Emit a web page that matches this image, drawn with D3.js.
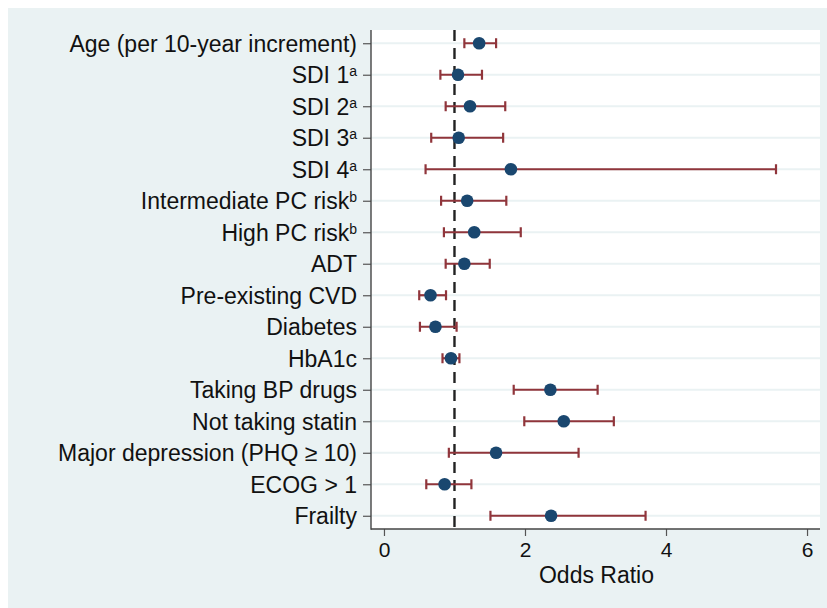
<!DOCTYPE html>
<html>
<head>
<meta charset="utf-8">
<script src="https://cdn.jsdelivr.net/npm/d3@7"></script>
<style>
  html, body { margin: 0; padding: 0; background: #fff; }
  svg { display: block; font-family: "Liberation Sans", Arial, Helvetica, sans-serif; }
</style>
</head>
<body>
<svg id="chart" width="827" height="608"></svg>
<script>
const width = 827;
const height = 608;

// rows, top to bottom
const labels = [
  "Age (per 10-year increment)",
  "SDI 1", "SDI 2", "SDI 3", "SDI 4",
  "Intermediate PC risk", "High PC risk",
  "ADT", "Pre-existing CVD", "Diabetes", "HbA1c",
  "Taking BP drugs", "Not taking statin",
  "Major depression (PHQ \u2265 10)", "ECOG > 1", "Frailty"
];
const superscripts = ["", "a", "a", "a", "a", "b", "b", "", "", "", "", "", "", "", "", ""];
const oddsRatio = [1.35, 1.05, 1.22, 1.06, 1.80, 1.18, 1.28, 1.14, 0.66, 0.73, 0.95, 2.36, 2.55, 1.59, 0.86, 2.37];
const lower =     [1.14, 0.80, 0.875, 0.67, 0.59, 0.81, 0.85, 0.875, 0.50, 0.51, 0.83, 1.84, 1.99, 0.92, 0.60, 1.51];
const upper =     [1.59, 1.39, 1.72, 1.69, 5.56, 1.735, 1.94, 1.50, 0.88, 1.03, 1.07, 3.03, 3.26, 2.76, 1.24, 3.71];
const xTicks = [0, 2, 4, 6];

const rows = labels.map((d, i) => ({
  label: d, sup: superscripts[i], pos: i + 1,
  or: oddsRatio[i], lo: lower[i], hi: upper[i]
}));

const plot = { left: 371, right: 820, top: 30, bottom: 529 };

const x = d3.scaleLinear().domain([-0.184, 6.184]).range([plot.left, plot.right]);
const y = d3.scaleLinear().domain([0.58, 16.42]).range([plot.top, plot.bottom]);

const svg = d3.select("#chart");

// outer background
svg.append("rect")
  .attr("x", 8).attr("y", 8)
  .attr("width", width - 8).attr("height", height - 8)
  .attr("fill", "#eaf2f3");

// plot region
svg.append("rect")
  .attr("x", plot.left).attr("y", plot.top)
  .attr("width", plot.right - plot.left).attr("height", plot.bottom - plot.top)
  .attr("fill", "#ffffff");

// horizontal grid lines
svg.append("g")
  .selectAll("line")
  .data(rows)
  .join("line")
  .attr("x1", plot.left).attr("x2", plot.right)
  .attr("y1", d => y(d.pos)).attr("y2", d => y(d.pos))
  .attr("stroke", "#eaf2f3")
  .attr("stroke-width", 2);

// reference line at OR = 1
svg.append("line")
  .attr("x1", x(1)).attr("x2", x(1))
  .attr("y1", plot.top).attr("y2", plot.bottom)
  .attr("stroke", "#222")
  .attr("stroke-width", 2.4)
  .attr("stroke-dasharray", "11,7");

// confidence intervals
const ci = svg.append("g")
  .attr("stroke", "#90353b")
  .attr("stroke-width", 2.2);

ci.selectAll(".span")
  .data(rows)
  .join("line")
  .attr("class", "span")
  .attr("x1", d => x(d.lo)).attr("x2", d => x(d.hi))
  .attr("y1", d => y(d.pos)).attr("y2", d => y(d.pos));

ci.selectAll(".capLo")
  .data(rows)
  .join("line")
  .attr("class", "capLo")
  .attr("x1", d => x(d.lo)).attr("x2", d => x(d.lo))
  .attr("y1", d => y(d.pos) - 5).attr("y2", d => y(d.pos) + 5);

ci.selectAll(".capHi")
  .data(rows)
  .join("line")
  .attr("class", "capHi")
  .attr("x1", d => x(d.hi)).attr("x2", d => x(d.hi))
  .attr("y1", d => y(d.pos) - 5).attr("y2", d => y(d.pos) + 5);

// point estimates
svg.append("g")
  .selectAll("circle")
  .data(rows)
  .join("circle")
  .attr("cx", d => x(d.or))
  .attr("cy", d => y(d.pos))
  .attr("r", 6.3)
  .attr("fill", "#1a476f");

// y axis
const yAxis = svg.append("g")
  .attr("transform", `translate(${plot.left},0)`)
  .call(d3.axisLeft(y).tickValues(rows.map(d => d.pos)).tickSize(8).tickFormat(""));
yAxis.select(".domain").remove();
yAxis.selectAll(".tick line").attr("stroke", "#555").attr("stroke-width", 1.2);

svg.append("line")
  .attr("x1", plot.left).attr("x2", plot.left)
  .attr("y1", plot.top).attr("y2", plot.bottom + 0.7)
  .attr("stroke", "#444").attr("stroke-width", 1.4);

const yLabels = svg.append("g")
  .selectAll("text")
  .data(rows)
  .join("text")
  .attr("x", plot.left - 14)
  .attr("y", d => y(d.pos))
  .attr("dy", "0.36em")
  .attr("text-anchor", "end")
  .attr("font-size", 23)
  .attr("fill", "#111");

yLabels.append("tspan").text(d => d.label);
yLabels.filter(d => d.sup)
  .append("tspan")
  .attr("font-size", 14)
  .attr("dy", -7)
  .text(d => d.sup);

// x axis
const xAxis = svg.append("g")
  .attr("transform", `translate(0,${plot.bottom})`)
  .call(d3.axisBottom(x).tickValues(xTicks).tickSize(7).tickPadding(6).tickFormat(d3.format("d")));
xAxis.select(".domain").remove();
xAxis.selectAll(".tick line").attr("stroke", "#555").attr("stroke-width", 1.2);
xAxis.selectAll(".tick text")
  .attr("font-size", 21)
  .attr("fill", "#111")
  .attr("font-family", "'Liberation Sans', Arial, sans-serif");

svg.append("line")
  .attr("x1", plot.left).attr("x2", plot.right)
  .attr("y1", plot.bottom).attr("y2", plot.bottom)
  .attr("stroke", "#444").attr("stroke-width", 1.4);

svg.append("text")
  .attr("x", (plot.left + plot.right) / 2 + 1)
  .attr("y", 583)
  .attr("text-anchor", "middle")
  .attr("font-size", 23)
  .attr("fill", "#111")
  .text("Odds Ratio");
</script>
</body>
</html>
